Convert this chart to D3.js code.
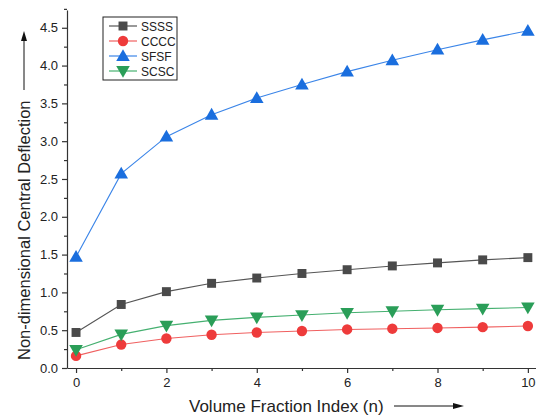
<!DOCTYPE html>
<html>
<head>
<meta charset="utf-8">
<script src="https://cdn.jsdelivr.net/npm/d3@7"></script>
<style>
  body { margin: 0; background: #fff; }
  svg { font-family: "Liberation Sans", Arial, sans-serif; }
</style>
</head>
<body>
<div class="chart"></div>
<script>
const nValues = [0, 1, 2, 3, 4, 5, 6, 7, 8, 9, 10];
const ssss = [0.47, 0.84, 1.01, 1.12, 1.19, 1.25, 1.30, 1.35, 1.39, 1.43, 1.46];
const cccc = [0.16, 0.31, 0.39, 0.44, 0.47, 0.49, 0.51, 0.52, 0.53, 0.54, 0.555];
const sfsf = [1.47, 2.57, 3.06, 3.35, 3.57, 3.75, 3.92, 4.07, 4.21, 4.34, 4.46];
const scsc = [0.24, 0.445, 0.56, 0.63, 0.67, 0.70, 0.73, 0.75, 0.77, 0.785, 0.80];
const yTicks = [0, 0.5, 1, 1.5, 2, 2.5, 3, 3.5, 4, 4.5];
const xTicks = [0, 2, 4, 6, 8, 10];

const series = [
  {name: "SSSS", values: ssss, color: "#4a4a4a", line: "#555555", symbol: d3.symbolSquare, size: 80, rot: 0},
  {name: "CCCC", values: cccc, color: "#ee3b3b", line: "#f06060", symbol: d3.symbolCircle, size: 85, rot: 0},
  {name: "SFSF", values: sfsf, color: "#1a6ede", line: "#3b85e8", symbol: d3.symbolTriangle, size: 80, rot: 0},
  {name: "SCSC", values: scsc, color: "#2a9e58", line: "#45b070", symbol: d3.symbolTriangle, size: 80, rot: 180}
];

const W = 536, H = 417;
const margin = {top: 10, right: 0, bottom: 49, left: 67};
const width = W - margin.left - margin.right,
      height = H - margin.top - margin.bottom;

const svg = d3.select(".chart").append("svg")
    .attr("width", W).attr("height", H)
  .append("g")
    .attr("transform", `translate(${margin.left},${margin.top})`);

const x = d3.scaleLinear().domain([-0.2, 10.18]).range([0, width]);
const y = d3.scaleLinear().domain([0, 4.735]).range([height, 0]);

// X axis: major labelled ticks, minor ticks at odd values
svg.append("g")
    .attr("transform", `translate(0,${height})`)
    .call(d3.axisBottom(x).tickValues(xTicks).tickFormat(d3.format("d")).tickSize(5).tickSizeOuter(0).tickPadding(5));
svg.append("g")
    .attr("transform", `translate(0,${height})`)
    .call(d3.axisBottom(x).tickValues([1, 3, 5, 7, 9]).tickFormat("").tickSize(3).tickSizeOuter(0))
    .select(".domain").remove();

svg.append("g")
    .call(d3.axisLeft(y).tickValues(yTicks).tickFormat(d3.format(".1f")).tickSize(5).tickSizeOuter(0).tickPadding(4));
svg.append("g")
    .call(d3.axisLeft(y).tickValues(yTicks.map(v => v + 0.25)).tickFormat("").tickSize(3).tickSizeOuter(0))
    .select(".domain").remove();

svg.selectAll(".tick text").attr("font-size", 13).attr("fill", "#222").attr("font-family", "Liberation Sans, Arial, sans-serif");
svg.selectAll(".domain, .tick line").attr("stroke", "#333").attr("stroke-width", 1.2);

// lines and markers
const line = d3.line().x((d, i) => x(nValues[i])).y(d => y(d));
series.forEach(s => {
  svg.append("path")
    .datum(s.values)
    .attr("fill", "none")
    .attr("stroke", s.line)
    .attr("stroke-width", 1.1)
    .attr("d", line);
  svg.append("g").selectAll("path")
    .data(s.values)
    .join("path")
      .attr("d", d3.symbol().type(s.symbol).size(s.size))
      .attr("transform", (d, i) => `translate(${x(nValues[i])},${y(d) + (s.symbol === d3.symbolTriangle ? (s.rot ? -1 : 1) : 0)}) rotate(${s.rot})`)
      .attr("fill", s.color);
});

// legend
const legend = svg.append("g").attr("transform", "translate(36,7)");
legend.append("rect")
    .attr("width", 74).attr("height", 63)
    .attr("fill", "#fff").attr("stroke", "#222").attr("stroke-width", 1);
series.forEach((s, i) => {
  const g = legend.append("g").attr("transform", `translate(0,${9 + i * 15})`);
  g.append("line").attr("x1", 6).attr("x2", 34).attr("stroke", s.line).attr("stroke-width", 1.2);
  g.append("path")
    .attr("d", d3.symbol().type(s.symbol).size(s.size))
    .attr("transform", `translate(20,${s.symbol === d3.symbolTriangle ? (s.rot ? -1 : 1) : 0}) rotate(${s.rot})`)
    .attr("fill", s.color);
  g.append("text").attr("x", 38).attr("y", 4.5)
    .attr("font-size", 12).attr("fill", "#222").text(s.name);
});

// axis titles with arrows
svg.append("text")
    .attr("x", 122).attr("y", height + 44)
    .attr("font-size", 17).attr("fill", "#222")
    .text("Volume Fraction Index (n)");
svg.append("line")
    .attr("x1", 327).attr("x2", 390).attr("y1", height + 38).attr("y2", height + 38)
    .attr("stroke", "#111").attr("stroke-width", 1);
svg.append("path")
    .attr("d", `M397,${height + 38} L386,${height + 35} L386,${height + 41} Z`)
    .attr("fill", "#111");

svg.append("text")
    .attr("transform", `translate(${-37},${height - 8}) rotate(-90)`)
    .attr("font-size", 16.5).attr("fill", "#222")
    .text("Non-dimensional Central Deflection");
svg.append("line")
    .attr("x1", -43).attr("x2", -43).attr("y1", 80).attr("y2", 28)
    .attr("stroke", "#111").attr("stroke-width", 1);
svg.append("path")
    .attr("d", "M-43,21 L-46,31 L-40,31 Z")
    .attr("fill", "#111");
</script>
</body>
</html>
